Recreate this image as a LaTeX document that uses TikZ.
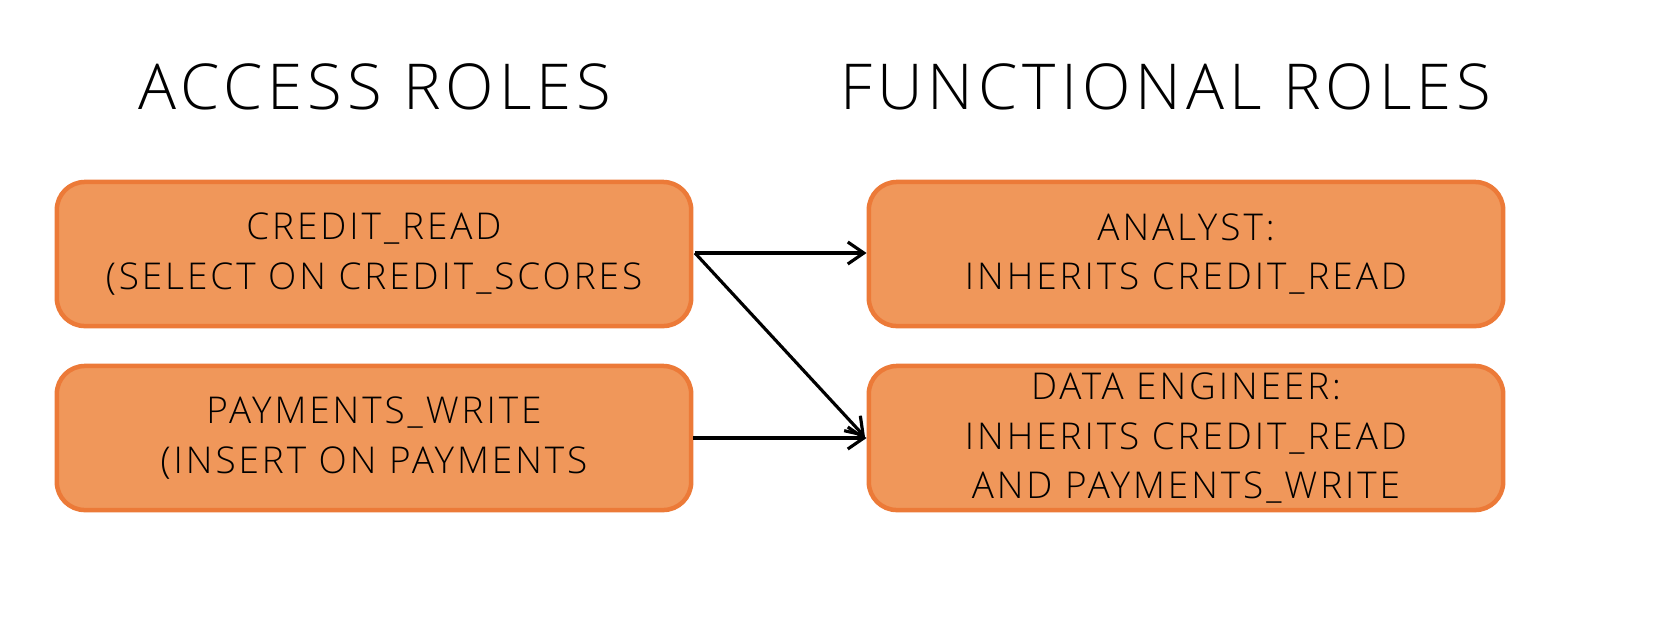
\documentclass[tikz,border=0pt]{standalone}
\usepackage{fontspec}
\setmainfont[LetterSpace=8]{Open Sans Light}
\usetikzlibrary{arrows.meta}
\definecolor{boxfill}{HTML}{F0975A}
\definecolor{boxline}{HTML}{EC7A38}
\begin{document}
\begin{tikzpicture}[x=0.01cm,y=-0.01cm,
  box/.style={draw=boxline,fill=boxfill,line width=0.45mm,rounded corners=0.28cm,minimum width=6.34cm,minimum height=1.44cm,align=center,inner sep=0pt,font=\fontsize{10.5}{14}\selectfont},
  title/.style={font=\fontsize{18}{20}\selectfont},
  arr/.style={-{Straight Barb[length=1.6mm,width=2.2mm]},line width=0.9pt}]
\node[title] (t1) at (375,87) {ACCESS ROLES};
\node[title] (t2) at (1166,87) {FUNCTIONAL ROLES};
\node[box] (a) at (374,254) {CREDIT\_READ\\(SELECT ON CREDIT\_SCORES};
\node[box] (b) at (374,438) {PAYMENTS\_WRITE\\(INSERT ON PAYMENTS};
\node[box] (c) at (1186,254) {ANALYST:\\INHERITS CREDIT\_READ};
\node[box] (d) at (1186,438) {DATA ENGINEER:\\INHERITS CREDIT\_READ\\AND PAYMENTS\_WRITE};
\coordinate (ae) at (695,253);
\draw[arr] (ae) -- (c.west |- ae);
\draw[arr] (ae) -- (865,437);
\draw[arr] (b.east) -- (d.west);
\pgfresetboundingbox
\useasboundingbox (0,0) rectangle (1668,620);
\end{tikzpicture}
\end{document}
